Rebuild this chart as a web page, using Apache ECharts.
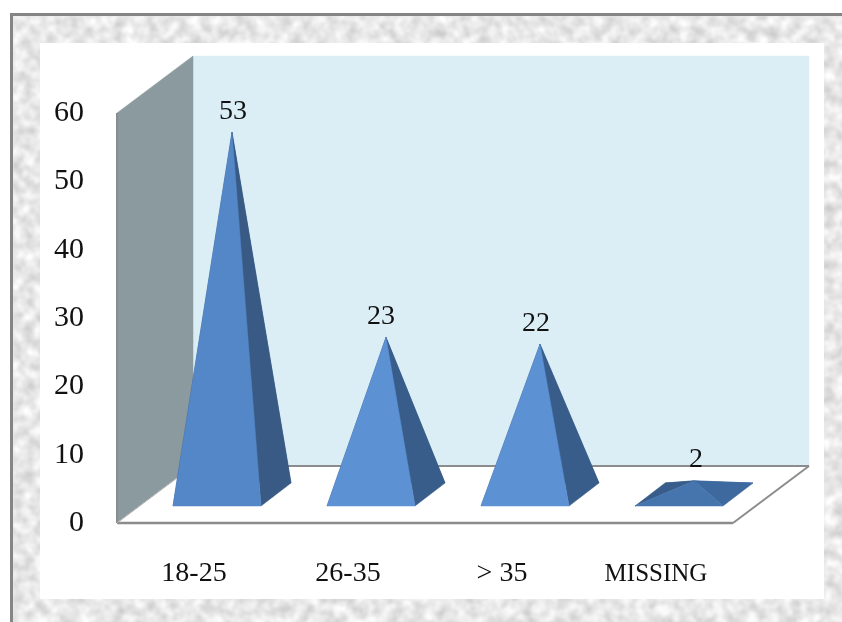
<!DOCTYPE html>
<html>
<head>
<meta charset="utf-8">
<title>Age groups</title>
<script src="https://cdn.jsdelivr.net/npm/echarts@6/dist/echarts.min.js"></script>
<style>
  html, body { margin: 0; padding: 0; background: #fff; width: 842px; height: 622px; overflow: hidden; }
  #frame {
    position: absolute; left: 10px; top: 13px; width: 832px; height: 609px;
    box-sizing: border-box; border-left: 3px solid #858585; border-top: 3px solid #858585;
    background-color: #e8e8e8;
    background-image: url("data:image/svg+xml;utf8,<svg xmlns='http://www.w3.org/2000/svg' width='842' height='622'><filter id='n' x='0' y='0' width='100%' height='100%' color-interpolation-filters='sRGB'><feTurbulence type='fractalNoise' baseFrequency='0.09' numOctaves='4' seed='7'/><feColorMatrix values='0.32 0 0 0 0.75  0.32 0 0 0 0.75  0.32 0 0 0 0.75  0 0 0 0 1'/><feGaussianBlur stdDeviation='0.8'/></filter><rect width='842' height='622' filter='url(%23n)'/></svg>");
  }
  #panel { position: absolute; left: 40px; top: 43px; width: 784px; height: 556px; background: #fff; }
  #chart { position: absolute; left: 0; top: 0; width: 842px; height: 622px; }
</style>
</head>
<body>
<div id="frame"></div>
<div id="panel"></div>
<div id="chart"></div>
<script>
// Respondents by age group
const categories = ['18-25', '26-35', '> 35', 'MISSING'];
const values = [53, 23, 22, 2];
const yMin = 0;
const yMax = 60;
const yStep = 10;

// Oblique projection of the box: how far the back wall sits from the front plane
const depthX = 76;
const depthY = 57;
// Footprint of a pyramid on the floor
const baseWidth = 88;
const baseDepthX = 30;
const baseDepthY = 23;

const frontFaceColors = ['#5487c7', '#5c91d4', '#5c91d4', '#4675ad'];
const rightFaceColors = ['#385a85', '#385d8a', '#385d8a', '#3d699f'];
const leftFaceColor = '#385d8a';
const labelNudgeX = [1, -5, -4, 2];

const serif = '"Liberation Serif", serif';

function face(points, fill) {
  return { type: 'polygon', shape: { points }, style: { fill, stroke: fill, lineWidth: 0.5 } };
}

function edge(a, b, stroke, lineWidth) {
  return {
    type: 'line',
    shape: { x1: a[0], y1: a[1], x2: b[0], y2: b[1] },
    style: { stroke, lineWidth }
  };
}

// Side wall, back wall and floor, derived from the plotting area
function renderRoom(params, api) {
  const c = params.coordSys;
  const l = c.x, r = c.x + c.width, t = c.y, b = c.y + c.height;
  const line = '#8c8c8c';
  return {
    type: 'group',
    children: [
      face([[l + depthX, t - depthY], [r + depthX, t - depthY], [r + depthX, b - depthY], [l + depthX, b - depthY]], '#dbeef6'),
      face([[l, t], [l + depthX, t - depthY], [l + depthX, b - depthY], [l, b]], '#8b9a9e'),
      face([[l, b], [l + depthX, b - depthY], [r + depthX, b - depthY], [r, b]], '#ffffff'),
      edge([l + depthX, b - depthY], [r + depthX, b - depthY], line, 2),
      edge([r, b], [r + depthX, b - depthY], line, 2),
      edge([l, b], [r, b], line, 2.5),
      edge([l, t], [l, b], line, 2),
      edge([l, b], [l + depthX, b - depthY], '#b0b0b0', 1)
    ]
  };
}

// One pyramid per category; the apex rises from the centre of its footprint
function renderPyramid(params, api) {
  const i = api.value(0);
  const v = api.value(1);
  const top = api.coord([i, v]);
  const zero = api.coord([i, 0]);
  const cx = top[0] + depthX / 2;
  const cy = zero[1] - depthY / 2;
  const apex = [cx, top[1] - depthY / 2];
  const xL = cx - (baseWidth + baseDepthX) / 2;
  const yF = cy + baseDepthY / 2;
  const yB = cy - baseDepthY / 2;
  const fl = [xL, yF];
  const fr = [xL + baseWidth, yF];
  const br = [xL + baseWidth + baseDepthX, yB];
  const bl = [xL + baseDepthX, yB];
  return {
    type: 'group',
    children: [
      face([apex, bl, br], rightFaceColors[i]),
      face([apex, fl, bl], leftFaceColor),
      face([apex, fr, br], rightFaceColors[i]),
      face([apex, fl, fr], frontFaceColors[i]),
      {
        type: 'text',
        z2: 10,
        style: {
          x: apex[0] + labelNudgeX[i],
          y: apex[1] - 21,
          text: String(v),
          fill: '#111',
          font: '28px ' + serif,
          textAlign: 'center',
          textVerticalAlign: 'middle'
        }
      }
    ]
  };
}

const chart = echarts.init(document.getElementById('chart'), null, { renderer: 'canvas' });
chart.setOption({
  animation: false,
  backgroundColor: 'transparent',
  grid: { left: 117, top: 113, width: 616, height: 410, containLabel: false },
  xAxis: {
    type: 'category',
    data: categories,
    axisLine: { show: false },
    axisTick: { show: false },
    splitLine: { show: false },
    axisLabel: {
      interval: 0,
      margin: 37,
      color: '#111',
      fontFamily: serif,
      fontSize: 28,
      formatter: (name) => (name === 'MISSING' ? '{caps|' + name + '}' : name),
      rich: { caps: { fontFamily: serif, fontSize: 25, color: '#111', padding: [2, 0, 0, 0] } }
    }
  },
  yAxis: {
    type: 'value',
    min: yMin,
    max: yMax,
    interval: yStep,
    axisLine: { show: false },
    axisTick: { show: false },
    splitLine: { show: false },
    axisLabel: { margin: 33, color: '#111', fontFamily: serif, fontSize: 30 }
  },
  series: [
    { type: 'custom', z: 1, silent: true, clip: false, data: [[0, 0]], renderItem: renderRoom },
    {
      type: 'custom',
      z: 2,
      clip: false,
      encode: { x: 0, y: 1 },
      data: values.map((v, i) => [i, v]),
      renderItem: renderPyramid
    }
  ]
});
</script>
</body>
</html>
